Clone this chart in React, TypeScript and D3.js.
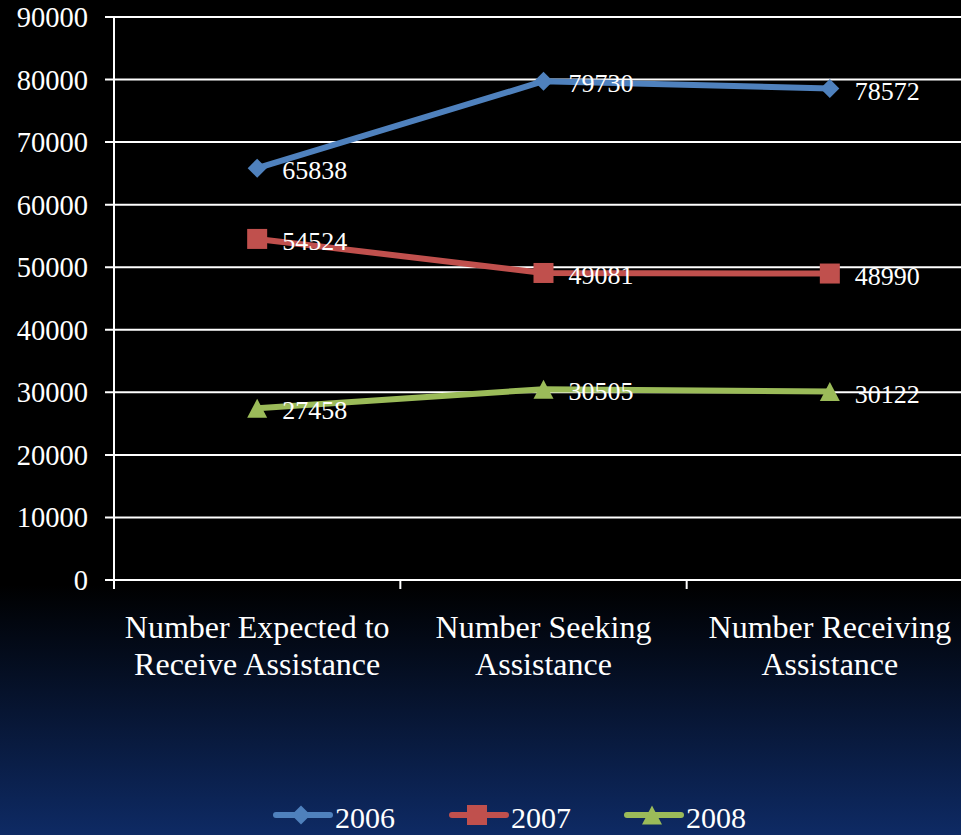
import React from "react";
import * as d3 from "d3";

const categories: string[][] = [
  ["Number Expected to", "Receive Assistance"],
  ["Number Seeking", "Assistance"],
  ["Number Receiving", "Assistance"],
];
const seriesNames = ["2006", "2007", "2008"];
const values2006 = [65838, 79730, 78572];
const values2007 = [54524, 49081, 48990];
const values2008 = [27458, 30505, 30122];
const yTicks = [0, 10000, 20000, 30000, 40000, 50000, 60000, 70000, 80000, 90000];
const colors = ["#4F81BD", "#C0504D", "#9BBB59"];
const markers = ["diamond", "square", "triangle"];

const W = 961;
const H = 835;

function Marker({ type, x, y, color }: { type: string; x: number; y: number; color: string }) {
  if (type === "diamond") {
    const s = 9.5;
    return <path d={`M${x},${y - s}L${x + s},${y}L${x},${y + s}L${x - s},${y}Z`} fill={color} />;
  }
  if (type === "square") {
    const s = 10;
    return <rect x={x - s} y={y - s} width={2 * s} height={2 * s} fill={color} />;
  }
  const s = 10;
  return <path d={`M${x},${y - 9.5}L${x + s},${y + 9.5}L${x - s},${y + 9.5}Z`} fill={color} />;
}

export default function App() {
  const seriesVals = [values2006, values2007, values2008];
  const x = d3.scaleBand<number>().domain([0, 1, 2]).range([114, 973]);
  const y = d3.scaleLinear().domain([0, 90000]).range([580, 17]);
  const cx = (i: number) => (x(i) as number) + x.bandwidth() / 2;
  const line = d3
    .line<number>()
    .x((_, i) => cx(i))
    .y((d) => y(d));
  const font = "Liberation Serif, DejaVu Serif, serif";
  const legendX = [301, 477, 652];

  return (
    <>
      <style>{`body{margin:0;overflow:hidden}`}</style>
      <svg width={W} height={H} style={{ display: "block", fontFamily: font }}>
        <defs>
          <linearGradient id="bg" x1="0" y1="0" x2="0" y2="1">
            <stop offset="0" stopColor="#000000" />
            <stop offset="0.7" stopColor="#000000" />
            <stop offset="1" stopColor="#0e2a64" />
          </linearGradient>
        </defs>
        <rect x={0} y={0} width={W} height={H} fill="url(#bg)" />
        {yTicks.map((t) => (
          <g key={t}>
            <line x1={105} x2={973} y1={y(t)} y2={y(t)} stroke="#ffffff" strokeWidth={2} />
            <text x={88} y={y(t)} dy="0.35em" textAnchor="end" fill="#fff" fontSize={28.5}>
              {t}
            </text>
          </g>
        ))}
        <line x1={114} x2={114} y1={y(90000)} y2={589} stroke="#fff" strokeWidth={2} />
        {[0, 1, 2, 3].map((i) => {
          const xx = 114 + i * x.bandwidth();
          return <line key={i} x1={xx} x2={xx} y1={580} y2={589} stroke="#fff" strokeWidth={2} />;
        })}
        {categories.map((lines, i) =>
          lines.map((l, j) => (
            <text key={`${i}-${j}`} x={cx(i)} y={638 + j * 37} textAnchor="middle" fill="#fff" fontSize={32}>
              {l}
            </text>
          ))
        )}
        {seriesVals.map((vals, s) => (
          <g key={s}>
            <path d={line(vals) || ""} fill="none" stroke={colors[s]} strokeWidth={6} strokeLinejoin="round" strokeLinecap="round" />
            {vals.map((v, i) => (
              <Marker key={i} type={markers[s]} x={cx(i)} y={y(v)} color={colors[s]} />
            ))}
            {vals.map((v, i) => (
              <text key={`l${i}`} x={cx(i) + 25} y={y(v) + 2} dy="0.35em" fill="#fff" fontSize={26}>
                {v}
              </text>
            ))}
          </g>
        ))}
        {seriesNames.map((n, s) => (
          <g key={n}>
            <line x1={legendX[s] - 25} x2={legendX[s] + 29} y1={815} y2={815} stroke={colors[s]} strokeWidth={6} strokeLinecap="round" />
            <Marker type={markers[s]} x={legendX[s]} y={815} color={colors[s]} />
            <text x={legendX[s] + 34} y={828} fill="#fff" fontSize={30}>
              {n}
            </text>
          </g>
        ))}
      </svg>
    </>
  );
}
